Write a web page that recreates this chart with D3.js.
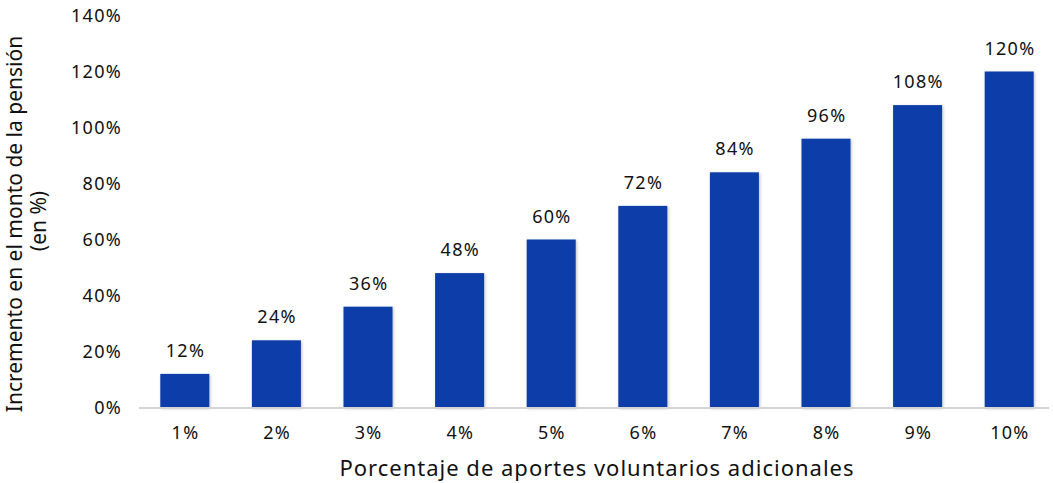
<!DOCTYPE html>
<html>
<head>
<meta charset="utf-8">
<script src="https://cdn.jsdelivr.net/npm/d3@7"></script>
<style>
  body { margin: 0; background: #fff; }
  text { font-family: "Noto Sans", sans-serif; fill: #111; }
</style>
</head>
<body>
<div id="chart"></div>
<script>
// aportes voluntarios vs incremento de pension
const categories = ["1%", "2%", "3%", "4%", "5%", "6%", "7%", "8%", "9%", "10%"];
const values = [12, 24, 36, 48, 60, 72, 84, 96, 108, 120];
const yTicks = [0, 20, 40, 60, 80, 100, 120, 140];

const width = 1053, height = 483;

const svg = d3.select("#chart").append("svg")
  .attr("width", width)
  .attr("height", height);

const defs = svg.append("defs");
const shadow = defs.append("filter").attr("id", "shadow")
  .attr("x", "-20%").attr("y", "-20%").attr("width", "140%").attr("height", "140%");
shadow.append("feDropShadow")
  .attr("dx", 1).attr("dy", 1).attr("stdDeviation", 1.5)
  .attr("flood-color", "#000").attr("flood-opacity", 0.25);

var x = d3.scaleBand()
  .domain(categories)
  .range([139, 1055])
  .paddingInner(0.465)
  .paddingOuter(0.2325);

var y = d3.scaleLinear()
  .domain([0, 140])
  .range([407.5, 15.5]);

// y tick labels (no axis line)
var yAxis = d3.axisLeft(y)
  .tickValues(yTicks)
  .tickSize(0)
  .tickPadding(0)
  .tickFormat(d => d + "%");

svg.append("g")
  .attr("transform", "translate(122,0)")
  .call(yAxis)
  .call(g => g.select(".domain").remove())
  .selectAll("text")
  .attr("font-size", 18)
  .attr("letter-spacing", 1.3)
  .attr("fill", "#111")
  .style("font-family", "'Noto Sans', sans-serif");

// bars
svg.append("g").selectAll("rect")
  .data(values)
  .join("rect")
  .attr("x", (d, i) => x(categories[i]))
  .attr("y", d => y(d))
  .attr("width", x.bandwidth())
  .attr("height", d => y(0) - y(d))
  .attr("fill", "#0a3ca8")
  .attr("filter", "url(#shadow)");

// baseline
svg.append("line")
  .attr("x1", 139).attr("x2", 1049)
  .attr("y1", y(0) + 0.5).attr("y2", y(0) + 0.5)
  .attr("stroke", "#d4d4d4")
  .attr("stroke-width", 2);

// value labels
svg.append("g").selectAll("text")
  .data(values)
  .join("text")
  .attr("x", (d, i) => x(categories[i]) + x.bandwidth() / 2 + 0.7)
  .attr("y", d => y(d) - 17)
  .attr("text-anchor", "middle")
  .attr("font-size", 18)
  .attr("letter-spacing", 1.3)
  .text(d => d + "%");

// x tick labels
var xAxis = d3.axisBottom(x).tickSize(0).tickPadding(0);
svg.append("g")
  .attr("transform", "translate(0.7,426)")
  .call(xAxis)
  .call(g => g.select(".domain").remove())
  .selectAll("text")
  .attr("font-size", 18)
  .attr("letter-spacing", 1.3)
  .attr("fill", "#111")
  .style("font-family", "'Noto Sans', sans-serif");

// axis titles
svg.append("text")
  .attr("x", 597)
  .attr("y", 476)
  .attr("text-anchor", "middle")
  .attr("font-size", 22)
  .attr("letter-spacing", 1)
  .text("Porcentaje de aportes voluntarios adicionales");

var yTitle = svg.append("text")
  .attr("transform", "translate(22,224) rotate(-90)")
  .attr("text-anchor", "middle")
  .attr("font-size", 21);
yTitle.append("tspan").attr("x", 0).attr("y", 0).text("Incremento en el monto de la pensión");
yTitle.append("tspan").attr("x", 3).attr("y", 24).text("(en %)");
</script>
</body>
</html>
